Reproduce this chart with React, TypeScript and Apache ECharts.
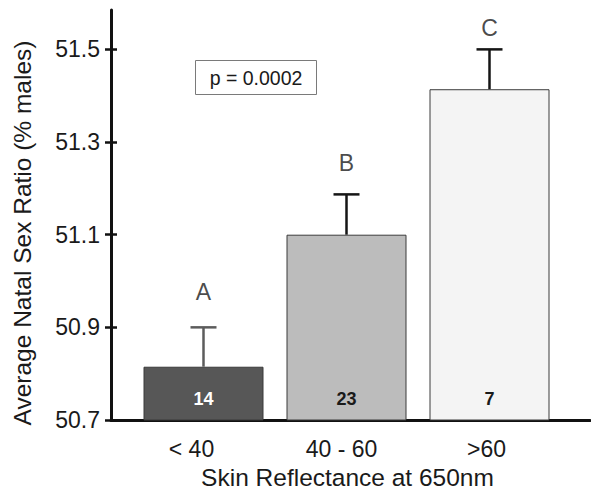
import React, { useEffect, useRef } from "react";
import * as echarts from "echarts";

const categories = ["< 40", "40 - 60", ">60"];
const means = [50.815, 51.1, 51.414];
const errorTops = [50.9, 51.187, 51.5];
const sampleSizes = [14, 23, 7];
const groupLetters = ["A", "B", "C"];
const letterLevels = [50.976, 51.255, 51.546];
const yTicks = [50.7, 50.9, 51.1, 51.3, 51.5];
const pValueText = "p = 0.0002";

const barColors = ["#575757", "#bcbcbc", "#f4f4f4"];
const countColors = ["#ffffff", "#1a1a1a", "#1a1a1a"];
const errorColors = ["#5c5c5c", "#151515", "#151515"];
const labelShifts = [24, 10, 6];

const Y_MIN = 50.7;
const Y_MAX = 51.585;
const FONT = "'Liberation Sans', Arial, sans-serif";

export default function App() {
  const ref = useRef<HTMLDivElement>(null);

  useEffect(() => {
    document.body.style.margin = "0";
    if (!ref.current) return;
    const chart = echarts.init(ref.current, null, { renderer: "svg" });

    const option: any = {
      animation: false,
      backgroundColor: "#ffffff",
      textStyle: { fontFamily: FONT },
      grid: [
        { left: 111, right: 1, top: 10, bottom: 69, outerBoundsMode: "none", containLabel: false },
        { left: 132, width: 429, top: 10, bottom: 69, outerBoundsMode: "none", containLabel: false },
      ],
      xAxis: [
        {
          type: "category",
          gridIndex: 0,
          data: categories,
          axisLine: { show: true, lineStyle: { color: "#111", width: 3 } },
          axisTick: { show: false },
          axisLabel: { show: false },
          name: "Skin Reflectance at 650nm",
          nameLocation: "middle",
          nameGap: 45,
          nameTextStyle: {
            fontSize: 24.5,
            lineHeight: 24,
            color: "#1a1a1a",
            fontFamily: FONT,
            padding: [0, 6, 0, 0],
          },
        },
        {
          type: "category",
          gridIndex: 1,
          data: categories,
          axisLine: { show: false },
          axisTick: { show: false },
          axisLabel: {
            interval: 0,
            margin: 17,
            fontSize: 23,
            color: "#1a1a1a",
            fontFamily: FONT,
            formatter: (v: string, i: number) => `{s${i}|${v}}`,
            rich: {
              s0: { fontSize: 23, color: "#1a1a1a", padding: [0, labelShifts[0], 0, 0] },
              s1: { fontSize: 23, color: "#1a1a1a", padding: [0, labelShifts[1], 0, 0] },
              s2: { fontSize: 23, color: "#1a1a1a", padding: [0, labelShifts[2], 0, 0] },
            },
          },
        },
      ],
      yAxis: [
        {
          type: "value",
          gridIndex: 0,
          position: "left",
          min: Y_MIN,
          max: Y_MAX,
          splitLine: { show: false },
          axisLine: { show: true, lineStyle: { color: "#111", width: 3 } },
          axisTick: {
            show: true,
            length: 6,
            customValues: yTicks,
            lineStyle: { color: "#111", width: 2.5 },
          },
          axisLabel: {
            customValues: yTicks,
            margin: 11,
            fontSize: 23,
            color: "#1a1a1a",
            fontFamily: FONT,
            formatter: (v: number) => v.toFixed(1),
          },
          name: "Average Natal Sex Ratio (% males)",
          nameLocation: "middle",
          nameGap: 76,
          nameTextStyle: {
            fontSize: 24.5,
            color: "#1a1a1a",
            fontFamily: FONT,
            padding: [0, 36, 0, 0],
          },
        },
        {
          type: "value",
          gridIndex: 0,
          position: "left",
          offset: 0,
          min: Y_MIN,
          max: Y_MAX,
          splitLine: { show: false },
          axisLine: { show: false },
          axisTick: {
            show: true,
            inside: true,
            length: 6,
            customValues: yTicks,
            lineStyle: { color: "#111", width: 2.5 },
          },
          axisLabel: { show: false },
        },
        {
          type: "value",
          gridIndex: 1,
          min: Y_MIN,
          max: Y_MAX,
          show: false,
          splitLine: { show: false },
        },
      ],
      series: [
        {
          type: "bar",
          xAxisIndex: 1,
          yAxisIndex: 2,
          barWidth: 120,
          data: means.map((m, i) => ({
            value: m,
            itemStyle: { color: barColors[i], borderColor: "#3a3a3a", borderWidth: 1 },
            label: {
              show: true,
              position: "insideBottom",
              distance: 13,
              formatter: String(sampleSizes[i]),
              color: countColors[i],
              fontWeight: "bold",
              fontSize: 18,
              fontFamily: FONT,
            },
          })),
        },
        {
          type: "custom",
          xAxisIndex: 1,
          yAxisIndex: 2,
          z: 5,
          data: means.map((m, i) => [i, m, errorTops[i]]),
          encode: { x: 0, y: [1, 2] },
          renderItem: (params: any, api: any) => {
            const i = api.value(0);
            const base = api.coord([i, api.value(1)]);
            const top = api.coord([i, api.value(2)]);
            const half = 13;
            const stroke = errorColors[params.dataIndex];
            return {
              type: "group",
              children: [
                {
                  type: "line",
                  shape: { x1: base[0], y1: base[1], x2: top[0], y2: top[1] },
                  style: { stroke, lineWidth: 2.5 },
                },
                {
                  type: "line",
                  shape: { x1: top[0] - half, y1: top[1], x2: top[0] + half, y2: top[1] },
                  style: { stroke, lineWidth: 2.5 },
                },
              ],
            };
          },
        },
        {
          type: "scatter",
          xAxisIndex: 1,
          yAxisIndex: 2,
          symbolSize: 2,
          itemStyle: { color: "rgba(0,0,0,0)" },
          data: letterLevels.map((v, i) => [i, v]),
          label: {
            show: true,
            position: "inside",
            formatter: (p: any) => groupLetters[p.dataIndex],
            fontSize: 23,
            color: "#1a1a1a",
            fontFamily: FONT,
          },
        },
      ],
      graphic: [
        {
          type: "group",
          left: 195,
          top: 60,
          children: [
            {
              type: "rect",
              shape: { x: 0, y: 0, width: 121, height: 34 },
              style: { fill: "#ffffff", stroke: "#7a7a7a", lineWidth: 1 },
            },
            {
              type: "text",
              x: 60.5,
              y: 17,
              style: {
                text: pValueText,
                fontSize: 19.5,
                fontFamily: FONT,
                fill: "#1a1a1a",
                align: "center",
                verticalAlign: "middle",
              },
            },
          ],
        },
      ],
    };

    chart.setOption(option);
    return () => chart.dispose();
  }, []);

  return <div ref={ref} style={{ width: 591, height: 489 }} />;
}
